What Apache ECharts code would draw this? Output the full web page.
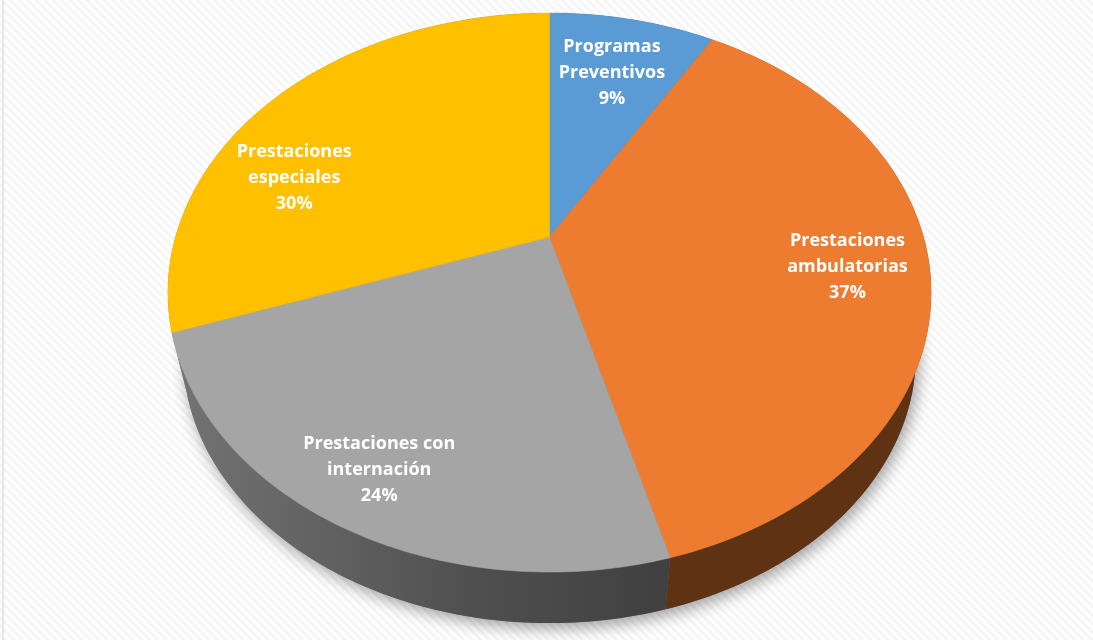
<!DOCTYPE html>
<html>
<head>
<meta charset="utf-8">
<script src="https://cdn.jsdelivr.net/npm/echarts@6/dist/echarts.min.js"></script>
<style>
html,body{margin:0;padding:0;width:1093px;height:640px;overflow:hidden;background:#fff;}
#bg{position:absolute;left:0;top:0;width:1093px;height:640px;
background:repeating-linear-gradient(45deg,#ffffff 0,#ffffff 2px,#f4f4f4 3.5px,#f4f4f4 4.5px,#ffffff 6px);}
#edge{position:absolute;left:2px;top:0;width:2px;height:640px;background:#e6e6e6;}
#chart{position:absolute;left:0;top:0;width:1093px;height:640px;filter:blur(0.7px);}
</style>
</head>
<body>
<div id="bg"></div><div id="edge"></div>
<div id="chart"></div>
<script>
// Data (shares of the pie, %)
const categories = ['Programas\nPreventivos', 'Prestaciones\nambulatorias', 'Prestaciones con\ninternación', 'Prestaciones\nespeciales'];
const shares = [8.5, 37.3, 23.8, 30.4];

// Styling
const topColors = ['#5B9BD5', '#EE7C30', '#A5A5A5', '#FFC000'];
const sideColors = [null, '#5F3213', null, null];
const labelRadius = [0.72, 0.787, 0.835, 0.75];
const labelShiftDeg = [0, 0.3, 0, -17.4];

// Perspective disc geometry
const CX = 549.5, CY = 237, A = 374, B = 268.5, P = 0.1987;
const WALL_SCALE = 0.96, WALL_CY = 301.4;

const total = shares.reduce((a, b) => a + b, 0);
const starts = [];
shares.reduce((acc, v, i) => { starts[i] = acc; return acc + v; }, 0);

function project(deg, r) {
  const t = deg * Math.PI / 180, u = r * Math.sin(t), v = r * Math.cos(t), d = 1 + P * v;
  return [CX + A * u / d, CY - B * v / d];
}
function toWall(p) {
  return [CX + (p[0] - CX) * WALL_SCALE, WALL_CY + (p[1] - CY) * WALL_SCALE];
}
function arc(a0, a1) {
  const pts = [], n = Math.max(2, Math.ceil(Math.abs(a1 - a0)));
  for (let i = 0; i <= n; i++) pts.push(project(a0 + (a1 - a0) * i / n, 1));
  return pts;
}
const angle = v => v / total * 360;

const grayWall = {
  type: 'linear', x: 170, y: 0, x2: 665, y2: 0, global: true,
  colorStops: [{ offset: 0, color: '#747474' }, { offset: 0.6, color: '#505050' }, { offset: 1, color: '#404040' }]
};

const chart = echarts.init(document.getElementById('chart'), null, { renderer: 'canvas' });
chart.setOption({
  backgroundColor: 'transparent',
  animation: false,
  series: [
    { // soft shadow of the solid
      type: 'custom', coordinateSystem: 'none', silent: true, z: 1,
      data: [0],
      renderItem: function () {
        return {
          type: 'polygon',
          shape: { points: arc(0, 360).map(toWall) },
          style: { fill: '#666', shadowBlur: 16, shadowOffsetX: 3, shadowOffsetY: 5, shadowColor: 'rgba(0,0,0,0.38)' }
        };
      }
    },
    { // side walls
      type: 'custom', coordinateSystem: 'none', silent: true, z: 2,
      data: shares.map((v, i) => [v, i]),
      renderItem: function (params, api) {
        const i = api.value(1);
        const a0 = angle(starts[i]), a1 = a0 + angle(api.value(0));
        const top = arc(a0, a1);
        const pts = top.concat(top.slice().reverse().map(toWall));
        return { type: 'polygon', shape: { points: pts }, style: { fill: sideColors[i] || grayWall } };
      }
    },
    { // top faces
      type: 'custom', coordinateSystem: 'none', silent: true, z: 3,
      data: shares.map((v, i) => [v, i]),
      renderItem: function (params, api) {
        const i = api.value(1), v = api.value(0);
        const a0 = angle(starts[i]), a1 = a0 + angle(v);
        const pts = [[CX, CY]].concat(arc(a0, a1));
        return {
          type: 'polygon',
          shape: { points: pts },
          style: { fill: topColors[i], stroke: topColors[i], lineWidth: 0.5 }
        };
      }
    },
    { // data labels
      type: 'custom', coordinateSystem: 'none', silent: true, z: 4,
      data: shares.map((v, i) => [v, i]),
      renderItem: function (params, api) {
        const i = api.value(1), v = api.value(0);
        const mid = angle(starts[i] + v / 2) + labelShiftDeg[i];
        const p = project(mid, labelRadius[i]);
        return {
          type: 'text',
          style: {
            x: p[0], y: p[1],
            text: categories[i] + '\n' + Math.round(v) + '%',
            fill: '#fff',
            font: 'bold 18px "Open Sans", sans-serif',
            lineHeight: 26,
            align: 'center',
            verticalAlign: 'middle'
          }
        };
      }
    }
  ]
});
</script>
</body>
</html>
